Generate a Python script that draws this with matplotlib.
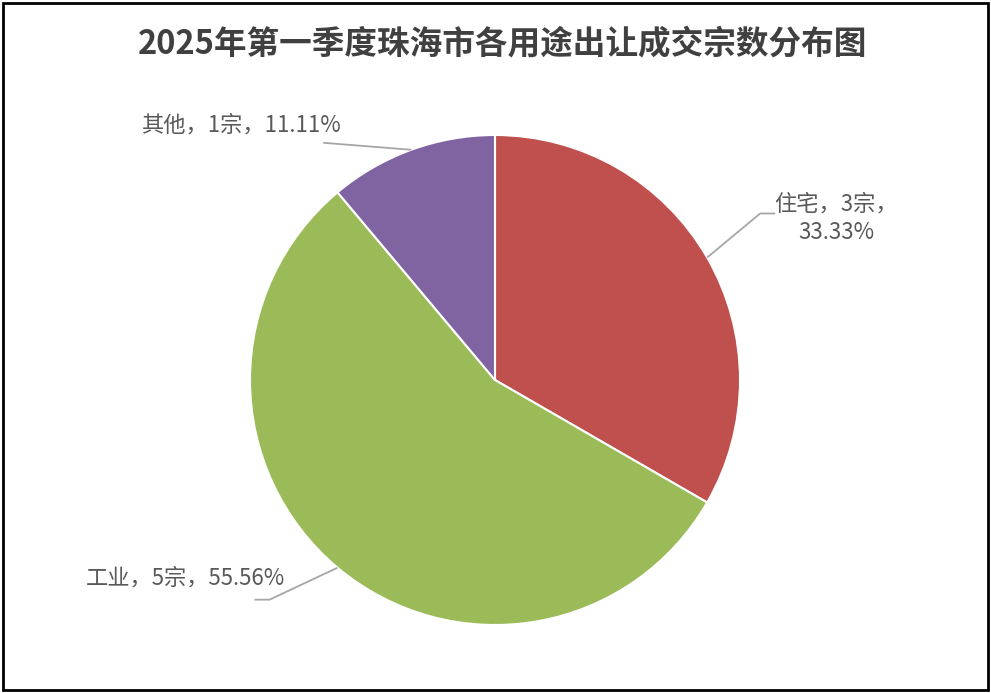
import numpy as np
import matplotlib
matplotlib.use("Agg")
import matplotlib.pyplot as plt
from matplotlib.patches import Rectangle

plt.rcParams['font.family'] = ['Noto Sans CJK SC', 'DejaVu Sans']

title = "2025年第一季度珠海市各用途出让成交宗数分布图"
categories = ["住宅", "工业", "其他"]
counts = [3, 5, 1]
colors = ["#C0504D", "#9BBB59", "#8064A2"]

W, H = 991, 693
fig = plt.figure(figsize=(W / 100, H / 100), dpi=100)
ax = fig.add_axes([0, 0, 1, 1])

cx, cy, r = 495, H - 380, 245
wedges, _ = ax.pie(counts, colors=colors, startangle=90, counterclock=False,
                   center=(cx, cy), radius=r,
                   wedgeprops=dict(edgecolor="white", linewidth=1.5))
ax.set_xlim(0, W)
ax.set_ylim(0, H)
ax.set_aspect("auto")
ax.axis("off")

total = sum(counts)
pcts = [c / total * 100 for c in counts]
labels = [
    "%s，%d宗，\n%.2f%%" % (categories[0], counts[0], pcts[0]),
    "%s，%d宗，%.2f%%" % (categories[1], counts[1], pcts[1]),
    "%s，%d宗，%.2f%%" % (categories[2], counts[2], pcts[2]),
]
# leader line elbow offsets (pixels) and text placement per slice
elbows = [((53, 44), (68, 44)), ((-68, -32), (-83, -32)), ((-88, 7), (-88, 7))]
text_pos = [((836, H - 218), "center"), ((185, H - 578), "center"), ((241, H - 125), "center")]
gray = "#595959"
for w, lab, (e1, e2), (tp, ha) in zip(wedges, labels, elbows, text_pos):
    ang = np.deg2rad((w.theta1 + w.theta2) / 2)
    x0, y0 = cx + r * np.cos(ang), cy + r * np.sin(ang)
    ax.plot([x0, x0 + e1[0], x0 + e2[0]], [y0, y0 + e1[1], y0 + e2[1]],
            color="#A6A6A6", lw=1.3, solid_capstyle="butt")
    ax.text(tp[0], tp[1], lab, ha=ha, va="center", fontsize=16, color=gray,
            linespacing=1.3)

fig.text(503 / W, 1 - 45 / H, title, ha="center", va="center", fontsize=23.5,
         fontweight="bold", color="#404040")

fig.patches.append(Rectangle((3 / W, 3 / H), 1 - 6 / W, 1 - 6 / H, transform=fig.transFigure,
                             fill=False, edgecolor="black", linewidth=2))

fig.savefig("out.png", dpi=100)
